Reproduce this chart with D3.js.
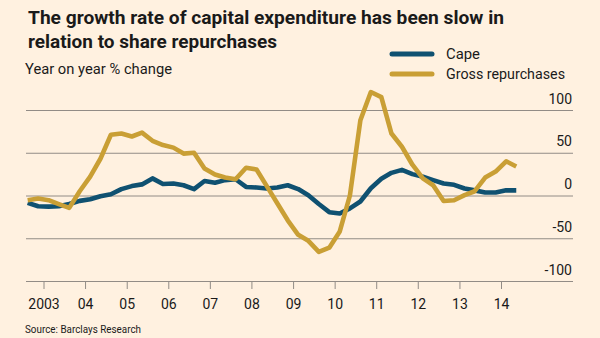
<!DOCTYPE html>
<html>
<head>
<meta charset="utf-8">
<script src="https://cdn.jsdelivr.net/npm/d3@7"></script>
<style>
  html, body { margin: 0; padding: 0; background: #fff1e0; }
  svg { display: block; font-family: Roboto, "Open Sans", sans-serif; }
</style>
</head>
<body>
<div id="chart"></div>
<script>
// quarterly observations, year on year % change
const quarters = [
  "2002Q3", "2002Q4",
  "2003Q1", "2003Q2", "2003Q3", "2003Q4",
  "2004Q1", "2004Q2", "2004Q3", "2004Q4",
  "2005Q1", "2005Q2", "2005Q3", "2005Q4",
  "2006Q1", "2006Q2", "2006Q3", "2006Q4",
  "2007Q1", "2007Q2", "2007Q3", "2007Q4",
  "2008Q1", "2008Q2", "2008Q3", "2008Q4",
  "2009Q1", "2009Q2", "2009Q3", "2009Q4",
  "2010Q1", "2010Q2", "2010Q3", "2010Q4",
  "2011Q1", "2011Q2", "2011Q3", "2011Q4",
  "2012Q1", "2012Q2", "2012Q3", "2012Q4",
  "2013Q1", "2013Q2", "2013Q3", "2013Q4",
  "2014Q1", "2014Q2"
]

const cape = [
  -8.6, -12.5,
  -13, -12.5, -10, -6.3,
  -4.3, -0.8, 1.5, 7.5,
  11, 13, 20, 13.5,
  14, 12, 7.4, 17,
  15, 18, 19, 10,
  9.4, 8.2, 9.4, 12,
  7.5, 0.3, -10, -19.5,
  -21, -15, -7, 8.5,
  19.5, 26.5, 30, 25,
  22, 18, 14, 12.5,
  8.2, 6, 3.5, 3.5,
  6, 6
]

const repurchases = [
  -5.5, -3.5,
  -5.5, -10, -14.5, 5,
  22, 43, 71, 72.5,
  69, 73.5, 64, 59,
  56, 49, 50, 31.5,
  24.5, 21, 19, 32.5,
  30.5, 11, -9, -29,
  -46, -53, -66, -61,
  -42, 0, 88, 121,
  115, 72.5, 57, 36,
  20, 12, -6.5, -5.5,
  0.5, 5, 21, 28,
  40, 34
]

const yTicks = [-100, -50, 0, 50, 100]
const xYears = [2003, 2004, 2005, 2006, 2007, 2008, 2009, 2010, 2011, 2012, 2013, 2014]
const xLabels = ["2003", "04", "05", "06", "07", "08", "09", "10", "11", "12", "13", "14"]

const BLUE = "#0f5171"
const GOLD = "#c99f35"
const GRID = "#928c86"
const INK = "#1a1a1a"

const margin = {top: 110, right: 27, bottom: 57, left: 26}
const WIDTH = 600 - margin.left - margin.right
const HEIGHT = 338 - margin.top - margin.bottom

// mid-quarter date for each observation
const parseQuarter = s => new Date(+s.slice(0, 4), (+s.slice(5) - 1) * 3 + 1, 15)
const dates = quarters.map(parseQuarter)

const svg = d3.select("#chart")
  .append("svg")
  .attr("width", 600)
  .attr("height", 338)

svg.append("rect")
  .attr("width", 600)
  .attr("height", 338)
  .attr("fill", "#fff1e0")

// title block
const title = svg.append("text")
  .attr("fill", INK)
  .attr("font-weight", 700)
  .attr("font-size", "18px")
title.append("tspan").attr("x", 28).attr("y", 24)
  .attr("textLength", 476).attr("lengthAdjust", "spacingAndGlyphs")
  .text("The growth rate of capital expenditure has been slow in")
title.append("tspan").attr("x", 28).attr("y", 48)
  .attr("textLength", 249).attr("lengthAdjust", "spacingAndGlyphs")
  .text("relation to share repurchases")

svg.append("text")
  .attr("x", 25).attr("y", 73.5)
  .attr("fill", INK)
  .attr("font-size", "14px")
  .attr("textLength", 147).attr("lengthAdjust", "spacingAndGlyphs")
  .text("Year on year % change")

// legend
const legend = [
  {name: "Cape", color: BLUE, w: 34},
  {name: "Gross repurchases", color: GOLD, w: 119}
]
const lg = svg.append("g")
legend.forEach((d, i) => {
  const cy = 54 + i * 20
  lg.append("line")
    .attr("x1", 392).attr("x2", 432)
    .attr("y1", cy).attr("y2", cy)
    .attr("stroke", d.color)
    .attr("stroke-width", 5)
    .attr("stroke-linecap", "round")
  lg.append("text")
    .attr("x", 446).attr("y", cy + 4.5)
    .attr("fill", INK)
    .attr("font-size", "14px")
    .attr("textLength", d.w).attr("lengthAdjust", "spacingAndGlyphs")
    .text(d.name)
})

const g = svg.append("g")
  .attr("transform", "translate(" + margin.left + "," + margin.top + ")")

const x = d3.scaleTime()
  .domain([new Date(2003, 0, 1), new Date(2014, 0, 1)])
  .range([17.5, 475])

const y = d3.scaleLinear()
  .domain([-100, 100])
  .range([HEIGHT, 0])

// gridlines with labels sitting above them on the right
const yAxis = d3.axisRight(y)
  .tickValues(yTicks)
  .tickSize(-WIDTH)
  .tickFormat(d => d)
g.append("g")
  .attr("class", "y axis")
  .attr("transform", "translate(" + WIDTH + ",0)")
  .call(yAxis)
  .call(a => a.select(".domain").remove())
  .call(a => a.selectAll("line").attr("stroke", GRID).attr("stroke-width", 1))
  .call(a => a.selectAll("text")
    .attr("x", -1)
    .attr("dy", null)
    .attr("y", -7)
    .attr("text-anchor", "end")
    .attr("fill", INK)
    .attr("font-size", "14px")
    .attr("font-family", "Roboto, sans-serif"))

const xAxis = d3.axisBottom(x)
  .tickValues(xYears.map(yr => new Date(yr, 0, 1)))
  .tickSize(8)
  .tickFormat((d, i) => xLabels[i])
g.append("g")
  .attr("class", "x axis")
  .attr("transform", "translate(0," + HEIGHT + ")")
  .call(xAxis)
  .call(a => a.select(".domain").remove())
  .call(a => a.selectAll("line").attr("stroke", GRID).attr("stroke-width", 1))
  .call(a => a.selectAll("text")
    .attr("y", 28)
    .attr("dy", null)
    .attr("fill", INK)
    .attr("font-size", "14px")
    .attr("font-family", "Roboto, sans-serif"))

const line = values => d3.line()
  .x((d, i) => x(dates[i]))
  .y(d => y(d))(values)

g.append("path")
  .attr("d", line(cape))
  .attr("fill", "none")
  .attr("stroke", BLUE)
  .attr("stroke-width", 4.6)
  .attr("stroke-linejoin", "round")

g.append("path")
  .attr("d", line(repurchases))
  .attr("fill", "none")
  .attr("stroke", GOLD)
  .attr("stroke-width", 4.6)
  .attr("stroke-linejoin", "round")

svg.append("text")
  .attr("x", 25).attr("y", 333)
  .attr("fill", INK)
  .attr("font-size", "10.5px")
  .attr("textLength", 116).attr("lengthAdjust", "spacingAndGlyphs")
  .text("Source: Barclays Research")
</script>
</body>
</html>
